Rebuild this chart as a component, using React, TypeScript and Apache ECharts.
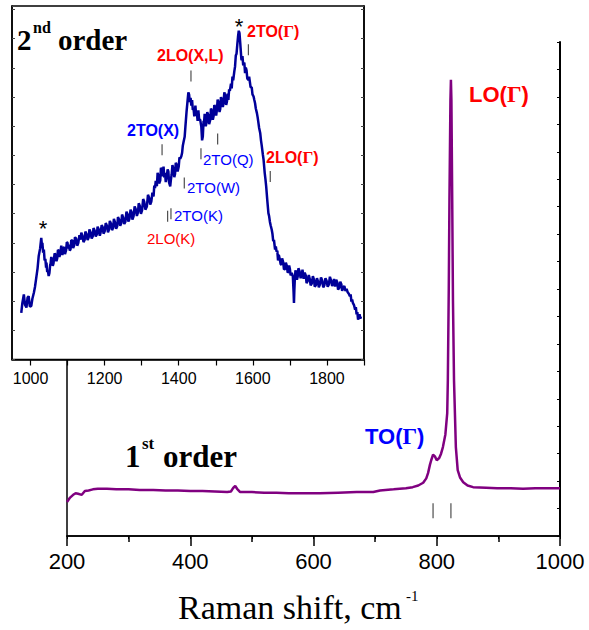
import React, { useEffect, useRef } from "react";
import * as echarts from "echarts";

// ---- Main spectrum (1st order) ----
const mainShift = [200, 205, 210, 214, 218, 224, 229, 235, 242, 250, 265, 280, 300, 318, 340, 360, 380, 400, 420, 440, 460, 466, 470, 473, 476, 481, 500, 520, 540, 560, 589, 610, 640, 670, 697, 708, 730, 750, 761, 770, 778, 783, 786, 789, 791, 794, 797, 800, 804, 807, 810, 814, 817, 818, 819.5, 820.6, 822.2, 823, 823.8, 825.1, 826.3, 828, 831, 834, 838, 843, 850, 859, 880, 898, 920, 940, 960, 980, 1000];
const mainIntensity = [6.2, 7.0, 7.5, 7.8, 7.7, 7.5, 8.2, 8.3, 8.5, 8.6, 8.6, 8.5, 8.5, 8.4, 8.4, 8.3, 8.3, 8.2, 8.2, 8.1, 8.0, 8.1, 8.8, 9.1, 8.6, 8.0, 8.0, 7.9, 7.9, 7.8, 7.8, 7.8, 7.9, 8.0, 8.0, 8.3, 8.5, 8.7, 8.9, 9.2, 9.7, 10.5, 11.5, 13.0, 13.8, 14.8, 14.5, 13.8, 14.2, 15.0, 16.2, 18.5, 22.4, 28.4, 45.0, 61.2, 79.4, 83.1, 79.4, 61.2, 43.0, 28.4, 16.2, 12.0, 10.6, 9.8, 9.2, 8.9, 8.8, 8.7, 8.7, 8.6, 8.7, 8.7, 8.7];

// ---- Inset spectrum (2nd order): [Raman shift, intensity] ----
const insetSpectrum: [number, number][] = [
  [975, 13.2], [978, 16.0], [982, 18.4], [985, 15.5], [989, 14.7], [992, 17.5], [995, 17.9], [998, 15.0], [1002, 15.1], [1005, 17.2],
  [1009, 18.9], [1012, 20.5], [1016, 23.5], [1019, 25.8], [1022, 29.2], [1026, 31.5], [1029, 34.4], [1031, 32.0], [1032, 33.0], [1034, 30.2],
  [1036, 31.1], [1038, 28.0], [1040, 28.5], [1042, 26.0], [1043, 27.4], [1045, 24.8], [1047, 25.0], [1049, 23.6], [1051, 24.5], [1053, 26.8],
  [1054, 27.0], [1056, 29.0], [1058, 28.2], [1060, 26.5], [1062, 27.2], [1065, 30.0], [1067, 29.7], [1070, 27.8], [1072, 28.6], [1074, 31.0],
  [1076, 30.8], [1078, 29.0], [1081, 30.6], [1083, 32.2], [1086, 29.5], [1088, 31.5], [1091, 31.8], [1093, 29.8], [1096, 30.9], [1098, 33.2],
  [1100, 33.0], [1101, 31.4], [1103, 32.5], [1106, 30.8], [1108, 31.2], [1110, 33.8], [1113, 33.6], [1115, 31.5], [1118, 32.4], [1120, 34.6],
  [1123, 34.2], [1126, 32.2], [1129, 33.0], [1132, 35.2], [1135, 33.9], [1137, 35.9], [1140, 35.0], [1143, 33.2], [1146, 33.8], [1148, 36.2],
  [1151, 35.5], [1154, 33.8], [1157, 34.6], [1159, 36.8], [1162, 36.0], [1165, 34.2], [1168, 34.9], [1170, 37.2], [1173, 36.5], [1176, 34.8],
  [1179, 35.4], [1181, 37.6], [1184, 36.8], [1187, 35.0], [1189, 35.8], [1192, 38.0], [1195, 37.4], [1197, 35.6], [1200, 36.2], [1203, 38.6],
  [1206, 37.9], [1209, 36.0], [1212, 36.8], [1214, 39.2], [1217, 38.5], [1220, 36.6], [1223, 37.3], [1225, 39.8], [1228, 38.8], [1231, 37.0],
  [1234, 37.7], [1236, 40.3], [1239, 39.6], [1242, 37.8], [1245, 38.6], [1247, 41.0], [1250, 40.2], [1253, 38.3], [1256, 39.0], [1259, 41.8],
  [1262, 41.0], [1264, 39.0], [1267, 39.8], [1270, 42.4], [1273, 41.6], [1275, 39.6], [1278, 40.5], [1281, 43.3], [1284, 42.5], [1287, 40.6],
  [1290, 41.6], [1292, 44.2], [1295, 43.4], [1298, 41.2], [1301, 42.2], [1304, 45.4], [1307, 44.6], [1310, 42.4], [1314, 43.3], [1317, 46.6],
  [1320, 45.8], [1323, 43.8], [1326, 44.7], [1329, 47.2], [1332, 46.1], [1334, 49.2], [1336, 48.5], [1338, 50.5], [1341, 49.0], [1343, 52.8],
  [1345, 52.0], [1347, 49.8], [1350, 50.6], [1352, 54.2], [1355, 53.8], [1357, 51.8], [1359, 54.6], [1361, 51.5], [1363, 52.8], [1365, 50.2],
  [1368, 51.9], [1370, 53.8], [1372, 53.2], [1374, 50.0], [1377, 49.0], [1379, 51.0], [1381, 52.4], [1383, 55.0], [1386, 53.7], [1388, 51.6],
  [1390, 52.5], [1392, 55.6], [1395, 55.0], [1397, 53.2], [1400, 54.6], [1402, 57.2], [1404, 56.8], [1407, 57.5], [1409, 58.4], [1411, 60.5],
  [1413, 61.5], [1416, 63.0], [1418, 65.9], [1421, 70.0], [1424, 73.4], [1426, 75.6], [1428, 74.9], [1430, 72.8], [1432, 74.0], [1434, 71.8],
  [1436, 73.4], [1438, 70.6], [1440, 71.0], [1442, 68.8], [1445, 71.8], [1447, 69.0], [1449, 69.7], [1451, 67.5], [1453, 70.5], [1455, 68.0],
  [1458, 67.8], [1461, 65.8], [1463, 62.0], [1465, 63.1], [1467, 67.5], [1468, 66.5], [1470, 69.5], [1471, 68.7], [1473, 66.0], [1475, 67.2],
  [1477, 70.0], [1480, 69.0], [1482, 66.6], [1485, 67.8], [1487, 71.0], [1490, 70.2], [1492, 67.8], [1494, 68.8], [1496, 72.0], [1499, 71.3],
  [1501, 69.0], [1503, 70.6], [1505, 73.5], [1508, 72.6], [1510, 70.0], [1512, 70.9], [1514, 74.2], [1517, 73.4], [1519, 71.4], [1521, 72.5],
  [1523, 75.6], [1525, 74.8], [1528, 72.0], [1530, 72.9], [1532, 75.2], [1534, 73.4], [1536, 76.4], [1538, 76.0], [1541, 78.0], [1543, 76.7],
  [1545, 80.0], [1547, 79.0], [1550, 81.5], [1552, 82.9], [1554, 86.0], [1556, 86.5], [1558, 89.0], [1560, 91.3], [1562, 93.0], [1564, 92.3],
  [1566, 89.5], [1567, 88.0], [1569, 85.0], [1570, 84.7], [1572, 85.8], [1574, 83.2], [1577, 84.0], [1579, 81.0], [1581, 82.6], [1583, 81.8],
  [1585, 79.5], [1588, 79.1], [1590, 80.0], [1592, 78.5], [1594, 77.0], [1597, 77.0], [1599, 75.0], [1602, 74.4], [1604, 73.4], [1606, 72.5],
  [1608, 71.0], [1611, 69.7], [1613, 68.5], [1615, 67.0], [1617, 65.5], [1620, 64.0], [1622, 62.0], [1624, 60.5], [1627, 58.0], [1629, 56.5],
  [1632, 52.8], [1634, 51.0], [1636, 49.0], [1639, 45.0], [1642, 41.4], [1644, 40.5], [1646, 39.0], [1648, 38.0], [1651, 36.7], [1653, 35.5],
  [1655, 33.5], [1657, 33.8], [1660, 31.1], [1662, 32.0], [1664, 30.5], [1666, 30.8], [1668, 28.0], [1670, 29.6], [1673, 28.2], [1675, 27.0],
  [1677, 26.8], [1679, 28.6], [1682, 27.5], [1684, 25.5], [1687, 25.6], [1689, 27.4], [1692, 26.4], [1694, 24.6], [1696, 24.8], [1698, 26.6],
  [1700, 25.6], [1702, 23.8], [1705, 24.5], [1708, 23.5], [1710, 19.0], [1711, 16.0], [1712, 19.5], [1713, 22.0], [1715, 25.2], [1717, 24.5],
  [1719, 22.6], [1721, 23.4], [1723, 25.8], [1726, 25.0], [1729, 23.0], [1732, 24.0], [1734, 25.4], [1737, 22.8], [1740, 24.6], [1743, 23.7],
  [1745, 21.6], [1748, 22.2], [1751, 23.9], [1754, 22.6], [1756, 21.0], [1759, 21.5], [1762, 23.6], [1765, 22.6], [1767, 20.6], [1770, 21.0],
  [1773, 23.0], [1776, 22.0], [1778, 20.4], [1781, 21.2], [1784, 23.2], [1787, 22.4], [1790, 20.4], [1793, 21.0], [1796, 23.0], [1799, 22.3],
  [1802, 20.6], [1805, 21.2], [1808, 23.4], [1811, 22.4], [1814, 20.8], [1817, 21.7], [1819, 22.8], [1822, 20.6], [1825, 22.6], [1828, 21.8],
  [1830, 19.8], [1833, 20.2], [1836, 22.0], [1839, 21.2], [1841, 19.4], [1844, 20.3], [1847, 20.8], [1850, 19.4], [1853, 20.0], [1856, 19.0],
  [1859, 18.6], [1862, 17.9], [1864, 18.4], [1866, 16.4], [1868, 17.0], [1870, 16.0], [1873, 15.4], [1876, 14.1], [1878, 14.8], [1880, 12.8],
  [1882, 13.4], [1884, 11.3], [1886, 11.8], [1888, 12.8], [1890, 11.6], [1892, 12.2],
];

// ---- Axis ticks / labels ----
const mainTickValues = [200, 400, 600, 800, 1000];
const insetLabelValues = [1000, 1200, 1400, 1600, 1800];
const insetTickValues = [1000, 1100, 1200, 1300, 1400, 1500, 1600, 1700, 1800, 1900];

// ---- Peak assignment markers ----
const insetMarkShift = [1588, 1433, 1355, 1505, 1460, 1647, 1415, 1370, 1379];
const insetMarkLevel = [87.6, 80.2, 59.3, 62.4, 58.2, 51.8, 49.9, 40.5, 41.2];
const mainMarkShift = [794, 823];
const mainMarkLevel = [4.6, 4.6];

const SANS = "Liberation Sans";
const SERIF = "Liberation Serif";

function gammaLabel(prefix: string, color: string, size: number, bold: boolean) {
  return {
    text: `{a|${prefix}(}{g|Γ}{a|)}`,
    rich: {
      a: { fontFamily: SANS, fontSize: size, fontWeight: bold ? "bold" : "normal", fill: color },
      g: { fontFamily: SERIF, fontSize: size + 1, fontWeight: "bold", fill: color },
    },
    fill: color,
    verticalAlign: "middle",
    align: "left",
  };
}

function txt(x: number, y: number, text: string, font: string, size: number, weight: string, color: string, align = "left") {
  return {
    type: "text",
    x,
    y,
    z: 20,
    style: { text, fontFamily: font, fontSize: size, fontWeight: weight, fill: color, verticalAlign: "middle", align },
  };
}

export default function App() {
  const ref = useRef<HTMLDivElement>(null);
  useEffect(() => {
    if (!ref.current) return;
    const chart = echarts.init(ref.current, undefined, { renderer: "svg" });
    const black = "#000";
    const option: any = {
      animation: false,
      backgroundColor: "#fff",
      grid: [
        { left: 67, top: 42, width: 493, height: 494, show: false },
        { left: 12, top: 6, width: 352, height: 353.5, show: true, backgroundColor: "#fff", borderColor: black, borderWidth: 1.5, z: 10 },
      ],
      xAxis: [
        {
          type: "value", gridIndex: 0, min: 200, max: 1000, interval: 200, position: "bottom",
          axisLine: { show: true, lineStyle: { color: black, width: 1.5 } },
          axisTick: { show: true, length: 10, lineStyle: { color: black, width: 1.5 } },
          minorTick: { show: true, splitNumber: 2, length: 6, lineStyle: { color: black, width: 1.5 } },
          axisLabel: { show: true, margin: 14, fontFamily: SANS, fontSize: 22, color: black,
            formatter: (v: number) => (mainTickValues.indexOf(v) >= 0 ? String(v) : "") },
          splitLine: { show: false },
        },
        {
          type: "value", gridIndex: 0, min: 200, max: 1000, interval: 100, position: "top",
          axisLine: { show: true, lineStyle: { color: black, width: 1.5 } },
          axisTick: { show: true, inside: true, length: 3, lineStyle: { color: black } },
          axisLabel: { show: false },
          splitLine: { show: false },
        },
        {
          type: "value", gridIndex: 1, min: 950, max: 1900, position: "bottom", z: 11,
          axisLine: { show: true, lineStyle: { color: black, width: 1.5 } },
          axisTick: { show: true, length: 6, customValues: insetTickValues, lineStyle: { color: black, width: 1.2 } },
          axisLabel: { show: true, customValues: insetLabelValues, margin: 11, fontFamily: SANS, fontSize: 16, color: black,
            formatter: (v: number) => String(v) },
          splitLine: { show: false },
        },
      ],
      yAxis: [
        {
          type: "value", gridIndex: 0, min: 0, max: 90, interval: 5, position: "left",
          axisLine: { show: true, lineStyle: { color: black, width: 1.5 } },
          axisTick: { show: false }, axisLabel: { show: false }, splitLine: { show: false },
        },
        {
          type: "value", gridIndex: 0, min: 0, max: 90, interval: 5, position: "right",
          axisLine: { show: true, lineStyle: { color: black, width: 2 } },
          axisTick: { show: true, inside: true, length: 3, lineStyle: { color: black } },
          axisLabel: { show: false }, splitLine: { show: false },
        },
        {
          type: "value", gridIndex: 1, min: 0, max: 100, interval: 8.25, position: "left", z: 11,
          axisLine: { show: true, lineStyle: { color: black, width: 1.5 } },
          axisTick: { show: true, inside: true, length: 3, lineStyle: { color: "#444" } },
          axisLabel: { show: false }, splitLine: { show: false },
        },
        {
          type: "value", gridIndex: 1, min: 0, max: 100, interval: 8.25, position: "right", z: 11,
          axisLine: { show: true, lineStyle: { color: black, width: 1.5 } },
          axisTick: { show: true, inside: true, length: 3, lineStyle: { color: "#444" } },
          axisLabel: { show: false }, splitLine: { show: false },
        },
      ],
      series: [
        {
          type: "line", xAxisIndex: 0, yAxisIndex: 0, z: 3,
          data: mainShift.map((x, i) => [x, mainIntensity[i]]),
          showSymbol: false, lineStyle: { color: "#800080", width: 2.5 }, itemStyle: { color: "#800080" },
        },
        {
          type: "scatter", xAxisIndex: 0, yAxisIndex: 0, z: 3,
          data: mainMarkShift.map((x, i) => [x, mainMarkLevel[i]]),
          symbol: "rect", symbolSize: [1.2, 15], itemStyle: { color: "#222" },
        },
        {
          type: "line", xAxisIndex: 2, yAxisIndex: 2, z: 12,
          data: insetSpectrum,
          showSymbol: false, lineStyle: { color: "#000099", width: 2.5 }, itemStyle: { color: "#000099" },
        },
        {
          type: "scatter", xAxisIndex: 2, yAxisIndex: 2, z: 13,
          data: insetMarkShift.map((x, i) => [x, insetMarkLevel[i]]),
          symbol: "rect", symbolSize: [1.2, 11], itemStyle: { color: "#222" },
        },
      ],
      graphic: [
        // 2nd order
        txt(17, 39.5, "2", SERIF, 29, "bold", black),
        txt(33, 27.5, "nd", SERIF, 16, "bold", black),
        txt(58, 39.5, "order", SERIF, 29, "bold", black),
        // 1st order
        txt(125, 456, "1", SERIF, 31, "bold", black),
        txt(142, 443, "st", SERIF, 17, "bold", black),
        txt(163, 456, "order", SERIF, 31, "bold", black),
        // axis title
        txt(178, 607, "Raman shift, cm", SERIF, 34, "normal", black),
        txt(406, 596, "-1", SERIF, 15, "normal", black),
        // stars
        txt(43, 228, "*", SANS, 22, "normal", black, "center"),
        txt(239, 26, "*", SANS, 22, "normal", black, "center"),
        // inset labels
        { type: "text", x: 247, y: 31, z: 20, style: gammaLabel("2TO", "#ff0000", 16, true) },
        txt(157, 55, "2LO(X,L)", SANS, 16, "bold", "#ff0000"),
        txt(127, 130, "2TO(X)", SANS, 16, "bold", "#0000ff"),
        { type: "text", x: 266, y: 157.5, z: 20, style: gammaLabel("2LO", "#ff0000", 16, true) },
        txt(203, 159.5, "2TO(Q)", SANS, 15, "normal", "#0000ff"),
        txt(187, 187.5, "2TO(W)", SANS, 15, "normal", "#0000ff"),
        txt(174, 215, "2TO(K)", SANS, 15, "normal", "#0000ff"),
        txt(147, 238.5, "2LO(K)", SANS, 15, "normal", "#ff0000"),
        // main labels
        { type: "text", x: 365, y: 436, z: 20, style: gammaLabel("TO", "#0000ff", 22, true) },
        { type: "text", x: 469, y: 94.5, z: 20, style: gammaLabel("LO", "#ff0000", 22, true) },
      ],
    };
    chart.setOption(option);
    return () => chart.dispose();
  }, []);
  return <div ref={ref} style={{ position: "fixed", left: 0, top: 0, width: 589, height: 630 }} />;
}
